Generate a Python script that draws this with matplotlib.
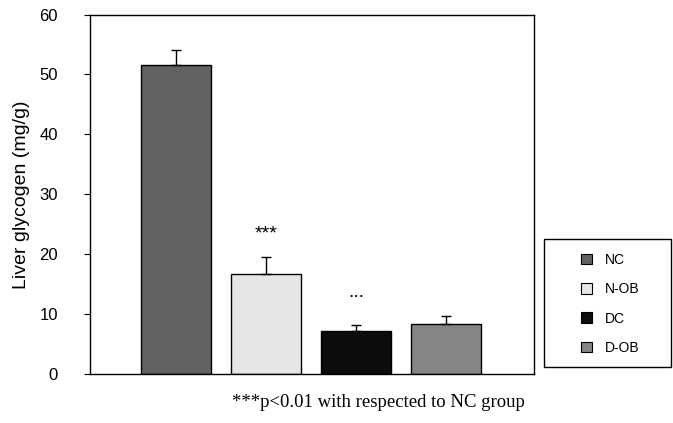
import matplotlib
matplotlib.use("Agg")
import matplotlib.pyplot as plt
from matplotlib.patches import Patch, Rectangle

plt.rcParams["font.family"] = ["Liberation Sans", "DejaVu Sans"]

groups = ["NC", "N-OB", "DC", "D-OB"]
means = [51.5, 16.7, 7.2, 8.3]
errs = [2.5, 2.9, 1.0, 1.3]
colors = ["#626262", "#e6e6e6", "#0d0d0d", "#858585"]
marks = ["", "***", "...", ""]
mark_y = [None, 23.3, 13.6, None]
footnote = "***p<0.01 with respected to NC group"

W, H = 673, 423
fig = plt.figure(figsize=(6.73, 4.23), dpi=100)
ax = fig.add_axes([90 / W, 1 - 374 / H, (534 - 90) / W, (374 - 14.5) / H])

x = list(range(len(groups)))
ax.bar(x, means, width=0.778, color=colors, edgecolor="black", linewidth=1.0, zorder=2)
ax.errorbar(x, means, yerr=[[0] * len(errs), errs], fmt="none", ecolor="black",
            elinewidth=1.0, capsize=3.5, capthick=1.0, zorder=3)
for xi, m, my in zip(x, marks, mark_y):
    if m:
        ax.text(xi, my, m, ha="center", va="center", fontsize=14, color="black")

ax.set_xlim(-0.956, 3.98)
ax.set_ylim(0, 60)
ax.set_yticks([0, 10, 20, 30, 40, 50, 60])
ax.set_xticks([])
ax.tick_params(axis="y", labelsize=12, direction="out", length=4, pad=19)
ax.set_ylabel("Liver glycogen (mg/g)", fontsize=14)
ax.yaxis.label.set_va("center")
ax.yaxis.set_label_coords((22 - 90) / (534 - 90), 0.5)
for s in ax.spines.values():
    s.set_linewidth(1.0)

# legend frame
fig.patches.append(Rectangle((544 / W, 1 - 367 / H), (671 - 544) / W, (367 - 239) / H,
                             transform=fig.transFigure, fill=False, edgecolor="black",
                             linewidth=1.0))
handles = [Patch(facecolor=c, edgecolor="black", linewidth=0.8) for c in colors]
fig.legend(handles, groups, loc="upper left", bbox_to_anchor=(581 / W, 1 - 253 / H),
           fontsize=10, frameon=False, borderpad=0, borderaxespad=0,
           handlelength=0.8, handleheight=0.8, labelspacing=1.1,
           handletextpad=0.9)

fig.text(378 / W, 1 - 402 / H, footnote, ha="center", va="center",
         fontsize=13.5, family="Liberation Serif")

fig.savefig("out.png", dpi=100)
